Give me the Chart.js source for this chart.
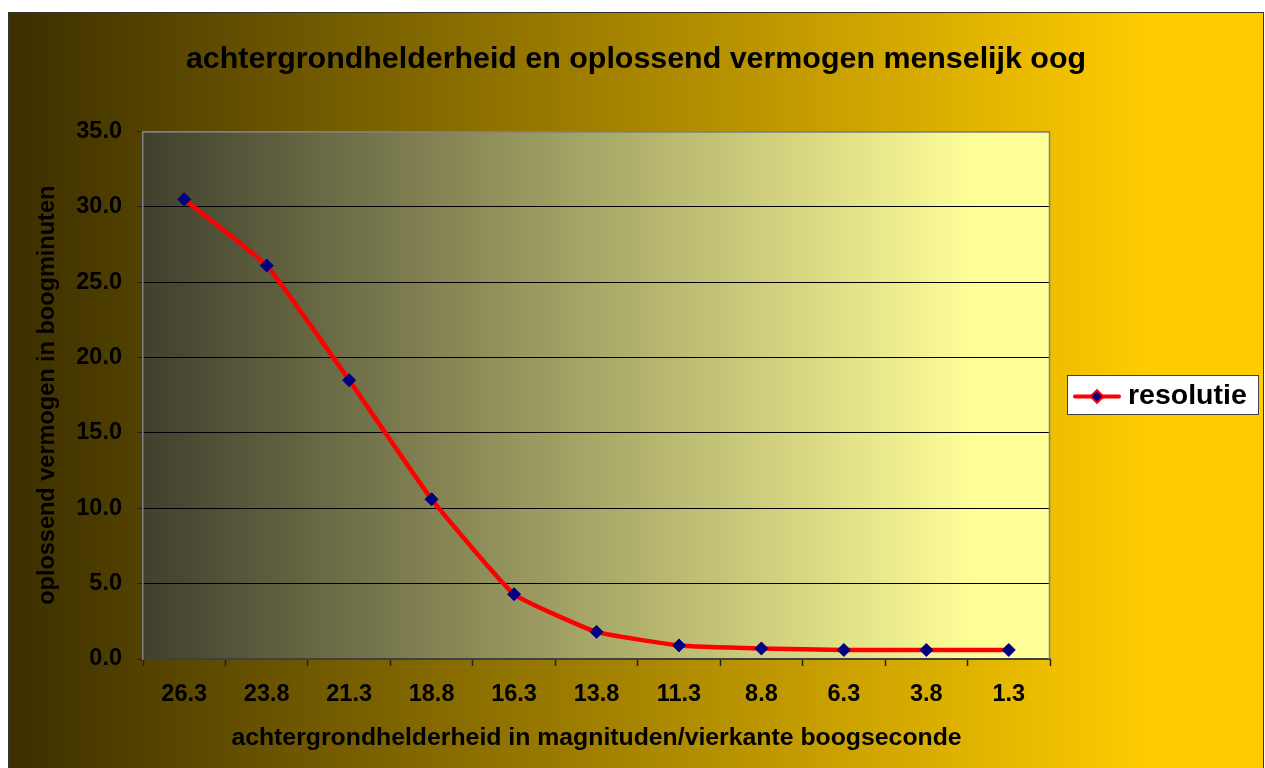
<!DOCTYPE html>
<html>
<head>
<meta charset="utf-8">
<script src="https://cdn.jsdelivr.net/npm/chart.js@4"></script>
<style>
  html, body { margin: 0; padding: 0; background: #fff; overflow: hidden; }
  #wrap { position: absolute; left: 8px; top: 12px; width: 1256px; height: 762px; }
</style>
</head>
<body>
<div id="wrap"><canvas id="c" width="1256" height="762"></canvas></div>
<script>
// gegevens uit de grafiek
const categories = ['26.3', '23.8', '21.3', '18.8', '16.3', '13.8', '11.3', '8.8', '6.3', '3.8', '1.3'];
const resolutie = [30.5, 26.1, 18.5, 10.6, 4.3, 1.8, 0.9, 0.7, 0.6, 0.6, 0.6];
const yTicks = [0, 5, 10, 15, 20, 25, 30, 35];

const FONT = "'Liberation Sans', Arial, sans-serif";

// achtergronden, randen en legenda
const decor = {
  id: 'decor',
  beforeDraw(chart) {
    const { ctx, width, height, chartArea: a } = chart;
    ctx.save();
    let g = ctx.createLinearGradient(0, 0, width, 0);
    g.addColorStop(0, '#3c2f00');
    g.addColorStop(0.91, '#ffcc00');
    g.addColorStop(1, '#ffcc00');
    ctx.fillStyle = g;
    ctx.fillRect(0, 0, width, height);

    g = ctx.createLinearGradient(a.left, 0, a.right, 0);
    g.addColorStop(0, '#40402e');
    g.addColorStop(0.92, '#ffff99');
    g.addColorStop(1, '#ffff99');
    ctx.fillStyle = g;
    ctx.fillRect(a.left, a.top, a.right - a.left, a.bottom - a.top);
    ctx.restore();
  },
  afterDraw(chart) {
    const { ctx, width, height, chartArea: a } = chart;
    ctx.save();
    // rand van het tekengebied (boven en rechts)
    ctx.strokeStyle = '#808080';
    ctx.lineWidth = 1.5;
    ctx.beginPath();
    ctx.moveTo(a.left, a.top + 0.5);
    ctx.lineTo(a.right - 0.5, a.top + 0.5);
    ctx.lineTo(a.right - 0.5, a.bottom);
    ctx.stroke();

    // buitenrand
    ctx.strokeStyle = '#333';
    ctx.lineWidth = 1;
    ctx.strokeRect(0.5, 0.5, width - 1, height - 1);

    // legenda
    const ds = chart.data.datasets[0];
    const lx = 1059, ly = 363, lw = 191, lh = 39;
    ctx.fillStyle = '#fff';
    ctx.fillRect(lx, ly, lw, lh);
    ctx.strokeStyle = '#404040';
    ctx.strokeRect(lx + 0.5, ly + 0.5, lw, lh);
    const cy = ly + lh / 2 + 2;
    ctx.strokeStyle = ds.borderColor;
    ctx.lineWidth = 4;
    ctx.lineCap = 'round';
    ctx.beginPath();
    ctx.moveTo(lx + 8, cy);
    ctx.lineTo(lx + 52, cy);
    ctx.stroke();
    Chart.helpers.drawPoint(ctx, { pointStyle: 'rectRot', radius: 5, borderWidth: 1 }, lx + 30, cy);
    ctx.fillStyle = ds.pointBackgroundColor;
    ctx.fill();
    ctx.fillStyle = '#000';
    ctx.font = 'bold 28.5px ' + FONT;
    ctx.textBaseline = 'middle';
    ctx.fillText(ds.label, lx + 61, cy);
    ctx.restore();
  }
};

new Chart(document.getElementById('c'), {
  type: 'line',
  data: {
    labels: categories,
    datasets: [{
      label: 'resolutie',
      data: resolutie,
      borderColor: '#ff0000',
      borderWidth: 4.5,
      tension: 0.12,
      pointStyle: 'rectRot',
      pointRadius: 6.5,
      pointBackgroundColor: '#000080',
      pointBorderColor: '#000080',
      pointBorderWidth: 1
    }]
  },
  options: {
    responsive: false,
    animation: false,
    layout: { padding: 0 },
    plugins: {
      legend: { display: false },
      tooltip: { enabled: false },
      title: {
        display: true,
        text: 'achtergrondhelderheid en oplossend vermogen menselijk oog',
        color: '#000',
        font: { family: FONT, size: 30.4, weight: 'bold' },
        padding: { top: 29, bottom: 54 }
      }
    },
    scales: {
      x: {
        offset: true,
        afterFit(s) { s.height = 115; },
        grid: {
          offset: true,
          drawOnChartArea: false,
          drawTicks: true,
          tickLength: 7,
          tickColor: '#202020',
          tickWidth: 1.5
        },
        border: { color: '#404040', width: 2 },
        ticks: {
          color: '#000',
          padding: 14,
          maxRotation: 0,
          font: { family: FONT, size: 23.5, weight: 'bold' }
        },
        title: {
          display: true,
          text: 'achtergrondhelderheid in magnituden/vierkante boogseconde',
          color: '#000',
          font: { family: FONT, size: 24.8, weight: 'bold' },
          padding: { top: 0, bottom: 21 }
        }
      },
      y: {
        min: 0,
        max: 35,
        afterFit(s) { s.width = 135; },
        afterBuildTicks(s) { s.ticks = yTicks.map(v => ({ value: v })); },
        grid: {
          color: c => (c.tick && c.tick.value === 35 ? '#808080' : '#000'),
          lineWidth: 1,
          tickLength: 6,
          tickColor: '#202020'
        },
        border: { color: '#808080', width: 1.5 },
        ticks: {
          color: '#000',
          padding: 15,
          font: { family: FONT, size: 23.5, weight: 'bold' },
          callback: v => Number(v).toFixed(1)
        },
        title: {
          display: true,
          text: 'oplossend vermogen in boogminuten',
          color: '#000',
          font: { family: FONT, size: 23.5, weight: 'bold' },
          padding: { top: 25, bottom: 0 }
        }
      },
      spacer: {
        type: 'linear',
        position: 'right',
        afterFit(s) { s.width = 214; },
        grid: { display: false },
        border: { display: false },
        ticks: { display: false }
      }
    }
  },
  plugins: [decor]
});
</script>
</body>
</html>
